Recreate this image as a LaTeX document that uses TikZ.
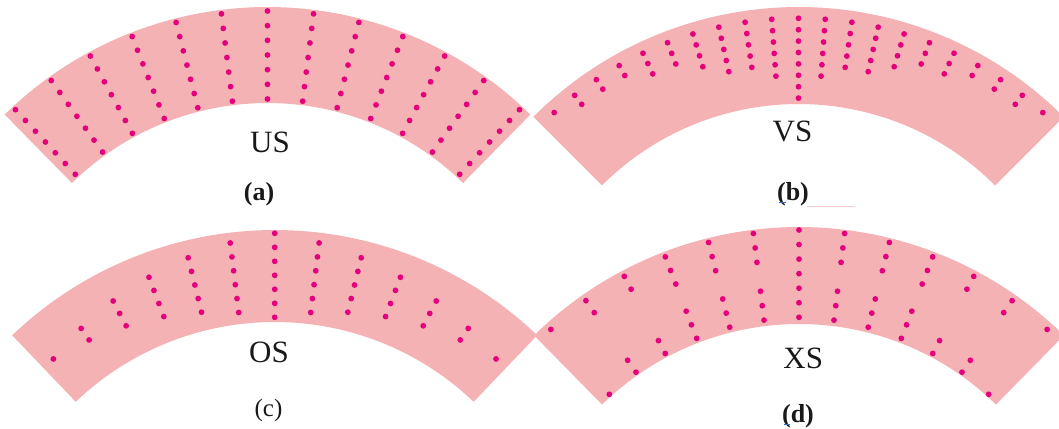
\documentclass[tikz,border=0pt]{standalone}
\usepackage{fontspec}
\setmainfont{Liberation Serif}
\definecolor{sectorpink}{RGB}{244,178,180}
\definecolor{dotmag}{RGB}{228,0,124}
\definecolor{txtblack}{RGB}{25,25,25}
\definecolor{markblue}{RGB}{60,110,210}
\tikzset{
  sectorfill/.style={fill=sectorpink, draw=none},
  pdot/.style={fill=dotmag, draw=none},
  bigtxt/.style={font=\fontsize{31}{31}\selectfont, text=txtblack, anchor=base, inner sep=0pt},
  captxt/.style={font=\bfseries\fontsize{26}{26}\selectfont, text=txtblack, anchor=base, inner sep=0pt},
  captxtreg/.style={font=\fontsize{25}{25}\selectfont, text=txtblack, anchor=base, inner sep=0pt},
}
% annular sector: cx, cy, R, r, half-angle
\newcommand{\annsector}[5]{%
  \fill[sectorfill] plot[domain=-#5:#5, samples=90] ({#1+#3*sin(\x)},{#2-#3*cos(\x)})
    -- plot[domain=#5:-#5, samples=90] ({#1+#4*sin(\x)},{#2-#4*cos(\x)}) -- cycle;}
% dot: cx, cy, angle, radius
\newcommand{\pdotat}[4]{\fill[pdot] ({#1+(#4)*sin(#3)},{#2-(#4)*cos(#3)}) circle[radius=2.9pt];}
\begin{document}
\begin{tikzpicture}[x=1pt,y=-1pt]
\useasboundingbox (0,0) rectangle (1059,428);
\clip (0,0) rectangle (1059,428);
% ---------- (a) US ----------
\annsector{267.5}{382}{375}{279}{44.5}
\foreach \k in {-6,...,6}{\foreach \j in {0,...,6}{\pdotat{267.5}{382}{7.13*\k}{283+14.67*\j}}}
% ---------- (b) VS ----------
\annsector{798.5}{382}{375}{278}{45}
\foreach \k/\n in {-10/1,-9/2,-8/2,-7/2,-6/3,-5/3,-4/4,-3/5,-2/5,-1/6,0/8,1/6,2/5,3/5,4/4,5/3,6/3,7/2,8/2,9/2,10/1}{%
  \foreach \i in {1,...,\n}{\pdotat{798.5}{382}{4.22*\k}{363.7-11.4*(\i-1)}}}
% ---------- (c) OS ----------
\annsector{274.7}{610}{380}{288}{43.7}
\foreach \k in {-6,...,6}{%
  \pgfmathtruncatemacro\nn{7-abs(\k)}%
  \foreach \i in {1,...,\nn}{\pdotat{274.7}{610}{6.9*\k}{334.7+14*(\i-1-(\nn-1)/2)}}}
% ---------- (d) XS ----------
\annsector{799}{605}{378}{281}{44.5}
\foreach \k/\js in {-6/{0,6},-5/{0,1,5,6},-4/{0,1,5,6},-3/{0,1,2,4,5,6},-2/{0,1,2,4,5,6},-1/{0,1,2,4,5,6},0/{0,1,2,3,4,5,6},1/{0,1,2,4,5,6},2/{0,1,2,4,5,6},3/{0,1,2,4,5,6},4/{0,1,5,6},5/{0,1,5,6},6/{0,6}}{%
  \foreach \j in \js {\pdotat{799}{605}{7.0*\k}{375-0.7*abs(\k)-14.55*\j}}}
% ---------- labels ----------
\node[bigtxt] (us) at (270,152) {US};
\node[captxt] (capa) at (259,200) {(a)};
\node[bigtxt] (vs) at (792.5,141.7) {VS};
\node[captxt] (capb) at (793,200) {(b)};
\node[bigtxt] (os) at (269,362.3) {OS};
\node[captxtreg] (capc) at (268.5,416) {(c)};
\node[bigtxt] (xs) at (803.3,368) {XS};
\node[captxt] (capd) at (798,422) {(d)};
% small marks seen in the picture
\draw[markblue, line width=1.2pt] (779,202.5) -- (786,202.5);
\draw[markblue, line width=1.2pt] (784,424.5) -- (790,424.5);
\draw[sectorpink!70, line width=1pt] (807,206.5) -- (855,206.5);
\end{tikzpicture}
\end{document}
